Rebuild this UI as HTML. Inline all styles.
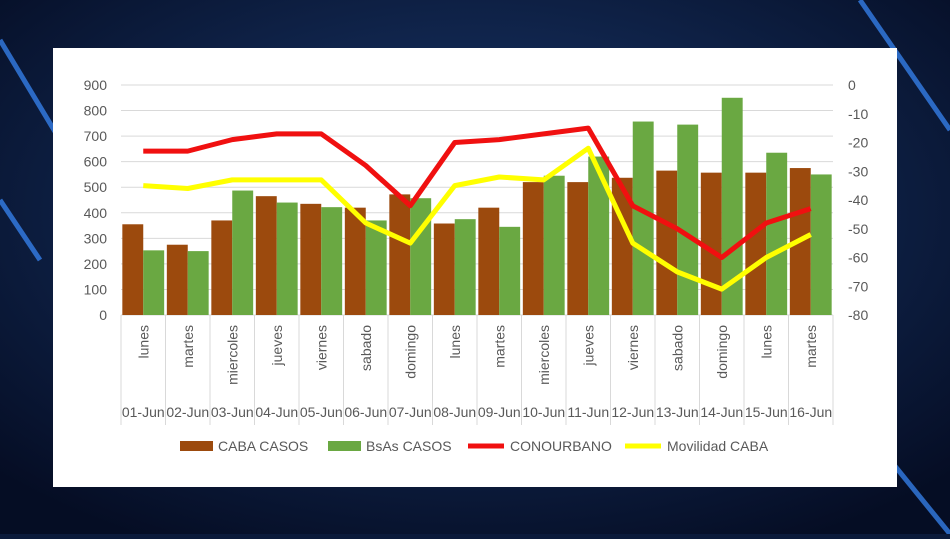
<!DOCTYPE html>
<html><head><meta charset="utf-8"><style>
body{margin:0;width:950px;height:534px;overflow:hidden;background:#0b1a3a;font-family:"Liberation Sans",sans-serif}
</style></head><body>
<svg width="950" height="534">
<defs><radialGradient id="bg" cx="50%" cy="40%" r="70%"><stop offset="0" stop-color="#1a3a70"/><stop offset="1" stop-color="#050d24"/></radialGradient></defs>
<rect width="950" height="534" fill="url(#bg)"/>
<path d="M0 40 L60 140 M0 200 L40 260 M860 0 L950 130 M890 460 L950 534" stroke="#3a8cff" stroke-width="5" opacity="0.7"/>
<rect x="53" y="48" width="844" height="439" fill="#fff"/>
<g id="g"></g>
</svg>
<script>
const cats=["01-Jun","02-Jun","03-Jun","04-Jun","05-Jun","06-Jun","07-Jun","08-Jun","09-Jun","10-Jun","11-Jun","12-Jun","13-Jun","14-Jun","15-Jun","16-Jun"];
const days=["lunes","martes","miercoles","jueves","viernes","sabado","domingo","lunes","martes","miercoles","jueves","viernes","sabado","domingo","lunes","martes"];
const caba=[355,275,370,465,435,420,472,358,420,520,520,537,565,557,557,575];
const bsas=[253,250,487,440,422,370,457,375,345,545,620,757,745,850,635,550];
const conurbano=[-23,-23,-19,-17,-17,-28,-42,-20,-19,-17,-15,-42,-50,-60,-48,-43];
const movilidad=[-35,-36,-33,-33,-33,-48,-55,-35,-32,-33,-22,-55,-65,-71,-60,-52];
const leftTicks=[0,100,200,300,400,500,600,700,800,900];
const rightTicks=[0,-10,-20,-30,-40,-50,-60,-70,-80];
const NS="http://www.w3.org/2000/svg",g=document.getElementById('g');
const L=121,R=833,T=85,B=315,cw=(R-L)/cats.length;
const yL=v=>B-(v/900)*(B-T), yR=v=>T+(-v/80)*(B-T), xC=i=>L+cw*(i+0.5);
function mk(t,a,txt){const e=document.createElementNS(NS,t);for(const k in a)e.setAttribute(k,a[k]);if(txt!=null)e.textContent=txt;g.appendChild(e);return e;}
leftTicks.forEach(v=>{
const l=mk('line',{x1:L,x2:R,y1:yL(v),y2:yL(v),stroke:'#d9d9d9'});


const t=mk('text',{x:107,y:yL(v)+5,'text-anchor':'end','font-size':14,fill:'#595959'},v);

});
rightTicks.forEach(v=>{
const t=mk('text',{x:848,y:yR(v)+5,'font-size':14,fill:'#595959'},v);

});
for(let i=0;i<=cats.length;i++){const l=mk('line',{x1:L+cw*i,x2:L+cw*i,y1:B,y2:425,stroke:'#d9d9d9'});

}
const bw=cw*0.47;
cats.forEach((c,i)=>{
const x0=L+cw*i+cw*0.03;
const a=mk('rect',{x:x0,y:yL(caba[i]),width:bw,height:B-yL(caba[i]),fill:'#9c4a0d'});


const b=mk('rect',{x:x0+bw,y:yL(bsas[i]),width:bw,height:B-yL(bsas[i]),fill:'#6aa842'});


const d=mk('text',{transform:`translate(${xC(i)+5},325) rotate(-90)`,'text-anchor':'end','font-size':14,fill:'#595959'},days[i]);


const dt=mk('text',{x:xC(i),y:417,'text-anchor':'middle','font-size':14,fill:'#595959'},c);

});
const p1=mk('polyline',{points:conurbano.map((v,i)=>xC(i)+','+yR(v)).join(' '),fill:'none',stroke:'#f01010','stroke-width':5,'stroke-linejoin':'round'});


const p2=mk('polyline',{points:movilidad.map((v,i)=>xC(i)+','+yR(v)).join(' '),fill:'none',stroke:'#ffff00','stroke-width':5,'stroke-linejoin':'round'});


const leg=[['rect','#9c4a0d','CABA CASOS',180],['rect','#6aa842','BsAs CASOS',328],['line','#f01010','CONOURBANO',468],['line','#ffff00','Movilidad CABA',625]];
leg.forEach(([k,col,txt,x])=>{
if(k==='rect'){const r=mk('rect',{x:x,y:441,width:33,height:10,fill:col});}
else{const r=mk('line',{x1:x,x2:x+36,y1:446,y2:446,stroke:col,'stroke-width':5});}
const t=mk('text',{x:x+(k==='rect'?38:42),y:451,'font-size':14,fill:'#595959'},txt);

});
</script>
</body></html>
